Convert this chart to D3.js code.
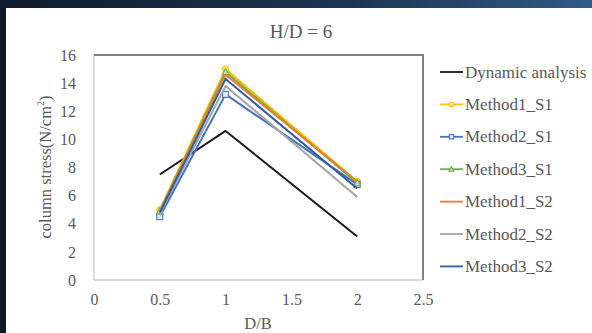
<!DOCTYPE html>
<html>
<head>
<meta charset="utf-8">
<script src="https://cdn.jsdelivr.net/npm/d3@7"></script>
<style>
  html, body { margin: 0; padding: 0; background: #0e1a28; }
  svg { display: block; }
  text { font-family: "Liberation Serif", "Times New Roman", serif; fill: #595959; }
</style>
</head>
<body>
<svg id="chart" width="592" height="333"></svg>
<script>
// D/B positions shared by every series
const ratios = [0.5, 1, 2];

// column stress (N/cm²) per series
const dynamicAnalysis = [7.5, 10.6, 3.1];
const method1S1 = [5.0, 15.0, 7.0];
const method2S1 = [4.5, 13.2, 6.8];
const method3S1 = [4.9, 14.8, 6.9];
const method1S2 = [4.9, 14.6, 7.0];
const method2S2 = [4.7, 13.8, 5.9];
const method3S2 = [4.8, 14.3, 6.5];

const seriesNames = ["Dynamic analysis", "Method1_S1", "Method2_S1", "Method3_S1",
                     "Method1_S2", "Method2_S2", "Method3_S2"];
const seriesValues = [dynamicAnalysis, method1S1, method2S1, method3S1,
                      method1S2, method2S2, method3S2];

const xTicks = [0, 0.5, 1, 1.5, 2, 2.5];
const yTicks = [0, 2, 4, 6, 8, 10, 12, 14, 16];

const colors = ["#1a1a1a", "#FFC000", "#4472C4", "#70AD47", "#ED7D31", "#A5A5A5", "#2F5D9E"];
const markers = [null, "circle", "square", "triangle", null, null, null];

const svg = d3.select("#chart");

// dark framed backdrop
const defs = svg.append("defs");
const grad = defs.append("linearGradient").attr("id", "band").attr("x1", 0).attr("x2", 1);
grad.append("stop").attr("offset", 0).attr("stop-color", "#0f1c2c");
grad.append("stop").attr("offset", 0.6).attr("stop-color", "#1d3552");
grad.append("stop").attr("offset", 1).attr("stop-color", "#2f5a86");
svg.append("rect").attr("width", 592).attr("height", 333).attr("fill", "#0e1a28");
svg.append("rect").attr("width", 592).attr("height", 8).attr("fill", "url(#band)");
svg.append("rect").attr("x", 6).attr("y", 8).attr("width", 586).attr("height", 325).attr("fill", "#ffffff");

const plot = { left: 94, right: 423, top: 55, bottom: 280 };

const x = d3.scaleLinear().domain([0, 2.5]).range([plot.left, plot.right]);
const y = d3.scaleLinear().domain([0, 16]).range([plot.bottom, plot.top]);

// plot frame: light left/bottom, darker top/right
svg.append("line").attr("x1", plot.left).attr("x2", plot.left)
  .attr("y1", plot.top).attr("y2", plot.bottom).attr("stroke", "#d0d0d0").attr("stroke-width", 1.5);
svg.append("line").attr("x1", plot.left).attr("x2", plot.right)
  .attr("y1", plot.bottom).attr("y2", plot.bottom).attr("stroke", "#d0d0d0").attr("stroke-width", 1.5);
svg.append("line").attr("x1", plot.left).attr("x2", plot.right + 1)
  .attr("y1", plot.top).attr("y2", plot.top).attr("stroke", "#808080").attr("stroke-width", 2);
svg.append("line").attr("x1", plot.right).attr("x2", plot.right)
  .attr("y1", plot.top).attr("y2", plot.bottom).attr("stroke", "#808080").attr("stroke-width", 2);

// axes (labels only)
const xAxis = svg.append("g").attr("transform", `translate(0,${plot.bottom})`)
  .call(d3.axisBottom(x).tickValues(xTicks).tickSize(0).tickPadding(14).tickFormat(d3.format("")));
const yAxis = svg.append("g").attr("transform", `translate(${plot.left},0)`)
  .call(d3.axisLeft(y).tickValues(yTicks).tickSize(0).tickPadding(18).tickFormat(d3.format("")));
[xAxis, yAxis].forEach(g => {
  g.select(".domain").remove();
  g.selectAll("text").attr("font-size", 16).style("font-family", "Liberation Serif, serif").attr("fill", "#595959");
});

// titles
svg.append("text").attr("x", 301).attr("y", 38).attr("text-anchor", "middle")
  .attr("font-size", 19).text("H/D = 6");
svg.append("text").attr("x", 258).attr("y", 329).attr("text-anchor", "middle")
  .attr("font-size", 16.5).text("D/B");
const yt = svg.append("text").attr("transform", "translate(51,167) rotate(-90)")
  .attr("text-anchor", "middle").attr("font-size", 16.5);
yt.append("tspan").text("column stress(N/cm");
yt.append("tspan").attr("font-size", 10).attr("dy", -7).text("2");
yt.append("tspan").attr("dy", 7).text(")");

const line = d3.line().x((d, i) => x(ratios[i])).y(d => y(d));

function drawMarker(g, type, cx, cy, color, s) {
  if (type === "circle") {
    g.append("circle").attr("cx", cx).attr("cy", cy).attr("r", s)
      .attr("fill", "#ffe9a8").attr("stroke", color).attr("stroke-width", 1.1);
  } else if (type === "square") {
    g.append("rect").attr("x", cx - s).attr("y", cy - s).attr("width", 2 * s).attr("height", 2 * s)
      .attr("fill", "#dfe7f6").attr("stroke", color).attr("stroke-width", 1.1);
  } else if (type === "triangle") {
    const t = s * 1.15;
    g.append("path").attr("d", `M${cx},${cy - t}L${cx + t},${cy + t * 0.8}L${cx - t},${cy + t * 0.8}Z`)
      .attr("fill", "#c9e2b8").attr("stroke", color).attr("stroke-width", 1.1);
  }
}

const series = svg.append("g");
seriesValues.forEach((vals, k) => {
  const g = series.append("g");
  g.append("path").datum(vals).attr("d", line).attr("fill", "none")
    .attr("stroke", colors[k]).attr("stroke-width", 2).attr("stroke-linejoin", "round");
  if (markers[k]) vals.forEach((v, i) => drawMarker(g, markers[k], x(ratios[i]), y(v), colors[k], 3));
});

// legend
const legend = svg.append("g");
seriesNames.forEach((name, k) => {
  const ly = 72 + k * 32.4;
  const g = legend.append("g");
  g.append("line").attr("x1", 440).attr("x2", 463).attr("y1", ly).attr("y2", ly)
    .attr("stroke", colors[k]).attr("stroke-width", 1.8);
  if (markers[k]) drawMarker(g, markers[k], 451.5, ly, colors[k], 2.2);
  g.append("text").attr("x", 465).attr("y", ly + 5.5).attr("font-size", 17).text(name);
});
</script>
</body>
</html>
